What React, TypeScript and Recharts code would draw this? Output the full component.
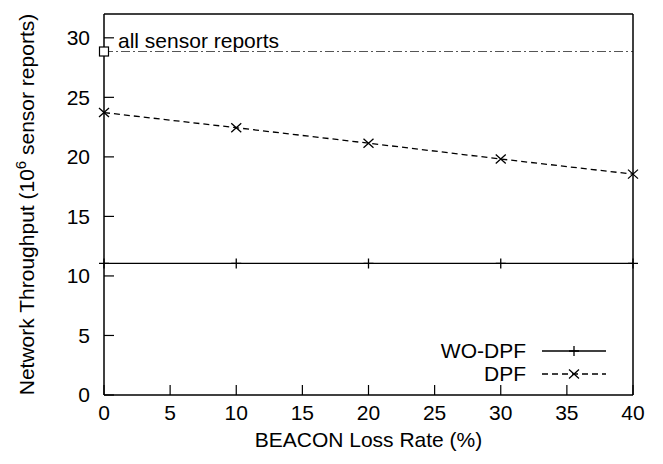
import { LineChart, Line, XAxis, YAxis, Legend, LabelList } from 'recharts';

const lossRates = [0, 10, 20, 30, 40];
const woDpf = [11.05, 11.05, 11.05, 11.05, 11.05];
const dpf = [23.72, 22.45, 21.15, 19.82, 18.55];
const allReports = [28.85, 28.85, 28.85, 28.85, 28.85];
const xTicks = [0, 5, 10, 15, 20, 25, 30, 35, 40];
const yTicks = [0, 5, 10, 15, 20, 25, 30];
const legendOrder = ['WO-DPF', 'DPF'];

const data = lossRates.map((rate, i) => ({
    rate,
    woDpf: woDpf[i],
    dpf: dpf[i],
    allReports: allReports[i],
}));

const FONT = '"Liberation Sans", Arial, Helvetica, sans-serif';

const PlusDot = (props: any) => {
    const { cx, cy, index } = props;
    if (cx == null || cy == null) return <g key={index} />;
    return (
        <path key={index} d={`M${cx - 5},${cy}H${cx + 5}M${cx},${cy - 5}V${cy + 5}`} stroke="#000" strokeWidth={1.3} fill="none" />
    );
};

const CrossDot = (props: any) => {
    const { cx, cy, index } = props;
    if (cx == null || cy == null) return <g key={index} />;
    return (
        <path key={index} d={`M${cx - 5},${cy - 4.5}L${cx + 5},${cy + 4.5}M${cx - 5},${cy + 4.5}L${cx + 5},${cy - 4.5}`} stroke="#000" strokeWidth={1.3} fill="none" />
    );
};

// only the first point of the reference line gets the square
const SquareDot = (props: any) => {
    const { cx, cy, index } = props;
    if (index !== 0 || cx == null) return <g key={index} />;
    return <rect key={index} x={cx - 4.5} y={cy - 4.5} width={9} height={9} fill="#fff" stroke="#000" strokeWidth={1.2} />;
};

const FirstLabel = (props: any) => {
    const { x, y, index } = props;
    if (index !== 0) return null;
    return (
        <text x={x + 14} y={y - 4} fontSize={21} fill="#000" fontFamily={FONT}>
            all sensor reports
        </text>
    );
};

const YLabel = (props: any) => {
    const vb = props.viewBox || { x: 0, y: 14, width: 104, height: 381 };
    const cy = vb.y + vb.height / 2;
    return (
        <text transform={`translate(34, ${cy}) rotate(-90)`} textAnchor="middle" fontSize={21} fill="#000" fontFamily={FONT}>
            Network Throughput (10<tspan dy={-8} fontSize={15}>6</tspan>
            <tspan dy={8}> sensor reports)</tspan>
        </text>
    );
};

const renderLegend = (props: any) => {
    const items = (props.payload || [])
        .filter((entry: any) => legendOrder.includes(entry.value))
        .sort((a: any, b: any) => legendOrder.indexOf(a.value) - legendOrder.indexOf(b.value));
    return (
        <div style={{ fontFamily: FONT, fontSize: 21, color: '#000' }}>
            {items.map((entry: any) => {
                const dashed = entry.value === 'DPF';
                return (
                    <div key={entry.value} style={{ display: 'flex', alignItems: 'center', height: 22.5 }}>
                        <span style={{ width: 110, textAlign: 'right', lineHeight: '22.5px' }}>{entry.value}</span>
                        <svg width={64} height={20} style={{ marginLeft: 16 }}>
                            <line x1={0} y1={10} x2={64} y2={10} stroke="#000" strokeWidth={1.3} strokeDasharray={dashed ? '6 4' : undefined} />
                            {dashed
                                ? <path d="M27,5.5L37,14.5M27,14.5L37,5.5" stroke="#000" strokeWidth={1.3} />
                                : <path d="M27,10H37M32,5V15" stroke="#000" strokeWidth={1.3} />}
                        </svg>
                    </div>
                );
            })}
        </div>
    );
};

export default function App() {
    return (
        <div style={{ position: 'absolute', left: 0, top: 0, fontFamily: FONT }}>
            <LineChart width={663} height={464} data={data} margin={{ top: 13, right: 29, bottom: 0, left: 0 }}>
                <XAxis
                    dataKey="rate"
                    type="number"
                    domain={[0, 40]}
                    ticks={xTicks}
                    height={69}
                    tickSize={-10}
                    tickMargin={20}
                    tick={{ fontSize: 21, fill: '#000' }}
                    axisLine={{ stroke: '#000', strokeWidth: 1.5 }}
                    tickLine={{ stroke: '#000', strokeWidth: 1.2 }}
                    label={{ value: 'BEACON Loss Rate (%)', position: 'insideBottom', offset: 17, fontSize: 21, fill: '#000' }}
                />
                <XAxis
                    xAxisId="top"
                    orientation="top"
                    type="number"
                    domain={[0, 40]}
                    allowDataOverflow
                    ticks={xTicks}
                    height={1}
                    tickSize={-10}
                    tick={false}
                    axisLine={{ stroke: '#000', strokeWidth: 1.5 }}
                    tickLine={{ stroke: '#000', strokeWidth: 1.2 }}
                />
                <YAxis
                    type="number"
                    domain={[0, 32]}
                    ticks={yTicks}
                    width={104}
                    tickSize={-10}
                    tickMargin={24}
                    tick={{ fontSize: 21, fill: '#000' }}
                    axisLine={{ stroke: '#000', strokeWidth: 1.5 }}
                    tickLine={{ stroke: '#000', strokeWidth: 1.2 }}
                    label={<YLabel />}
                />
                <YAxis
                    yAxisId="right"
                    orientation="right"
                    type="number"
                    domain={[0, 32]}
                    allowDataOverflow
                    ticks={yTicks}
                    width={1}
                    tickSize={-10}
                    tick={false}
                    axisLine={{ stroke: '#000', strokeWidth: 1.5 }}
                    tickLine={{ stroke: '#000', strokeWidth: 1.2 }}
                />
                <Line
                    dataKey="allReports"
                    name="all sensor reports"
                    stroke="#555"
                    strokeWidth={1.2}
                    strokeDasharray="9 3 2 3"
                    dot={SquareDot}
                    activeDot={false}
                    legendType="none"
                    isAnimationActive={false}
                >
                    <LabelList dataKey="allReports" content={FirstLabel} />
                </Line>
                <Line
                    dataKey="woDpf"
                    name="WO-DPF"
                    stroke="#000"
                    strokeWidth={1.3}
                    dot={PlusDot}
                    activeDot={false}
                    isAnimationActive={false}
                />
                <Line
                    dataKey="dpf"
                    name="DPF"
                    stroke="#000"
                    strokeWidth={1.3}
                    strokeDasharray="6 4"
                    dot={CrossDot}
                    activeDot={false}
                    isAnimationActive={false}
                />
                <Legend
                    layout="vertical"
                    align="center"
                    verticalAlign="middle"
                    content={renderLegend}
                    wrapperStyle={{ position: 'absolute', left: 416, top: 340, width: 200 }}
                />
            </LineChart>
        </div>
    );
}
